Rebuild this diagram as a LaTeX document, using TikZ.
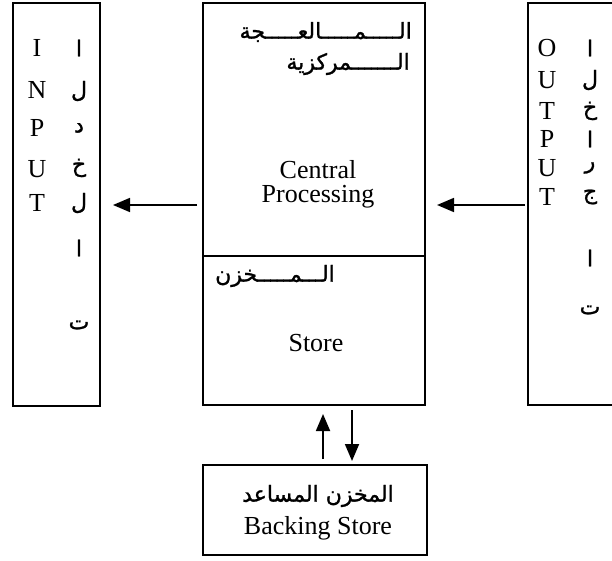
\documentclass[tikz,border=0pt]{standalone}
\usepackage{fontspec}
\setmainfont{Liberation Serif}
\newfontfamily\arabicfont[Script=Arabic,FakeBold=1.2]{DejaVu Sans}
\TeXXeTstate=1
\usetikzlibrary{arrows.meta}
\begin{document}
\begin{tikzpicture}[x=1pt,y=-1pt,
  box/.style={draw, line width=1.8pt, inner sep=0pt, outer sep=0pt, anchor=north west},
  lat/.style={font=\fontsize{26}{30}\selectfont, inner sep=0pt},
  ar/.style={font=\arabicfont\fontsize{22}{26}\selectfont, inner sep=0pt},
  arr/.style={-{Triangle[length=17pt,width=14pt]}, line width=1.8pt}]
\useasboundingbox (0,0) rectangle (612,561);
\clip (0,0) rectangle (612,561);
% boxes
\node[box, minimum width=87pt, minimum height=403pt] (inbox) at (13,3) {};
\node[box, minimum width=100pt, minimum height=402pt] (outbox) at (528,3) {};
\node[box, minimum width=222pt, minimum height=253pt] (cpu) at (203,3) {};
\node[box, minimum width=222pt, minimum height=149pt] (store) at (203,256) {};
\node[box, minimum width=224pt, minimum height=90pt] (bstore) at (203,465) {};
% input column
\node[lat] (i1) at (37,48) {I};
\node[lat] (i2) at (37,90) {N};
\node[lat] (i3) at (37,128) {P};
\node[lat] (i4) at (37,169) {U};
\node[lat] (i5) at (37,203) {T};
\node[ar] (ia1) at (79,48) {ا};
\node[ar] (ia2) at (79,91) {ل};
\node[ar] (ia3) at (79,128) {د};
\node[ar] (ia4) at (79,168) {خ};
\node[ar] (ia5) at (79,203) {ل};
\node[ar] (ia6) at (79,248) {ا};
\node[ar] (ia7) at (79,325) {ت};
% output column
\node[lat] (o1) at (547,48) {O};
\node[lat] (o2) at (547,80) {U};
\node[lat] (o3) at (547,111) {T};
\node[lat] (o4) at (547,139) {P};
\node[lat] (o5) at (547,168) {U};
\node[lat] (o6) at (547,197) {T};
\node[ar] (oa1) at (590,48) {ا};
\node[ar] (oa2) at (590,80) {ل};
\node[ar] (oa3) at (590,111) {خ};
\node[ar] (oa4) at (590,139) {ا};
\node[ar] (oa5) at (590,168) {ر};
\node[ar] (oa6) at (590,197) {ج};
\node[ar] (oa7) at (590,258) {ا};
\node[ar] (oa8) at (590,310) {ت};
% centre texts
\node[ar, anchor=east] (c1) at (412,32) {\beginR الـــــمـــــالعـــــجة\endR};
\node[ar, anchor=east] (c2) at (410,64) {\beginR الـــــــمركزية\endR};
\node[lat] (c3) at (318,170) {Central};
\node[lat] (c4) at (318,197) {Processing};
\node[ar, anchor=west] (s1) at (215,276) {\beginR الـــمـــــخزن\endR};
\node[lat] (s2) at (316,343) {Store};
\node[ar] (b1) at (318,496) {\beginR المخزن المساعد\endR};
\node[lat] (b2) at (318,528) {Backing Store};
% arrows
\coordinate (a1s) at (197,205);
\coordinate (a1e) at (113,205);
\coordinate (a2s) at (525,205);
\coordinate (a2e) at (437,205);
\draw[arr] (a1s) -- (a1e);
\draw[arr] (a2s) -- (a2e);
\draw[arr] ([yshift=6pt]bstore.north -| 323,0) -- ([yshift=-9pt]store.south -| 323,0);
\draw[arr] ([yshift=-5pt]store.south -| 352,0) -- ([yshift=4pt]bstore.north -| 352,0);
\end{tikzpicture}
\end{document}
